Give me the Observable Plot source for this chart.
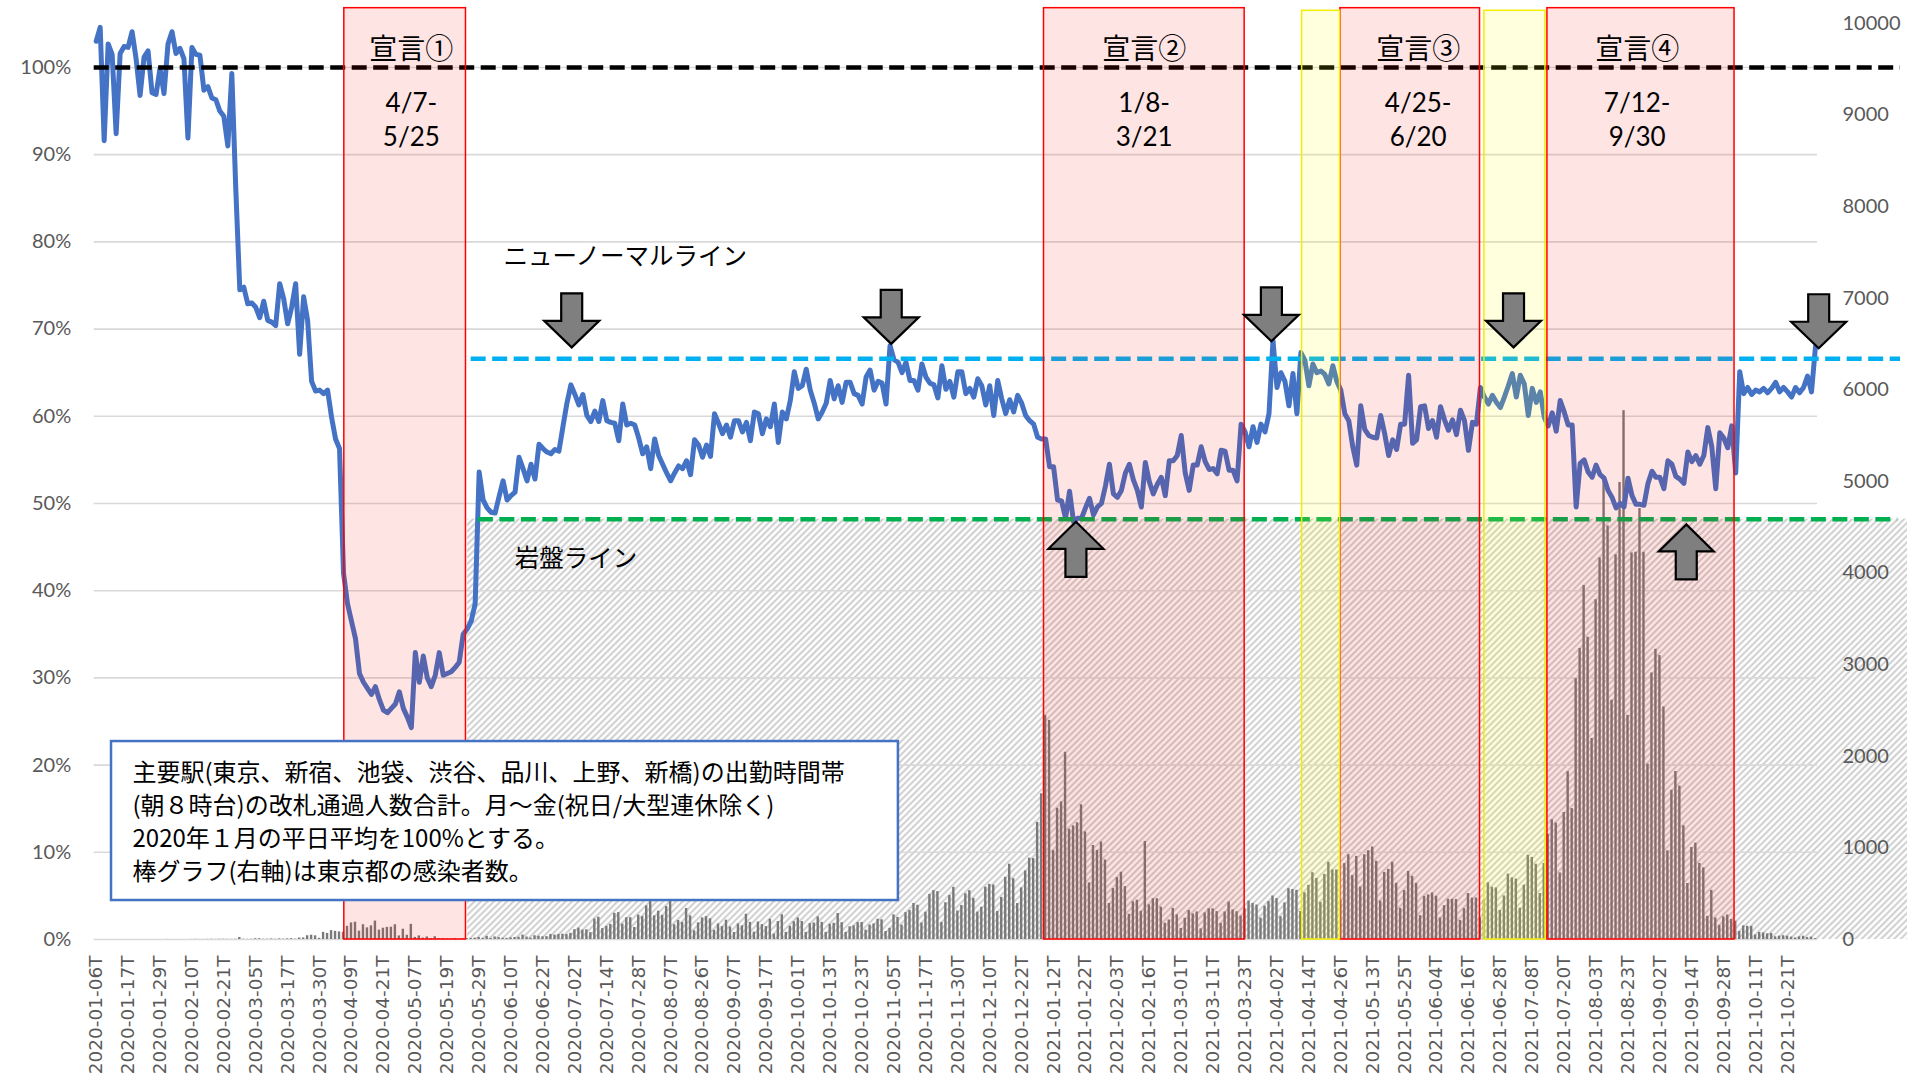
<!DOCTYPE html>
<html><head><meta charset="utf-8">
<script src="https://cdn.jsdelivr.net/npm/d3@7"></script>
<script src="https://cdn.jsdelivr.net/npm/@observablehq/plot@0.6"></script>
<style>
html,body{margin:0;padding:0;background:#fff;}
#chart{width:1907px;height:1078px;overflow:hidden;}
</style></head><body><div id="chart"></div>
<script>
// category tick labels (every 8th business day)
const tickLabels = ["2020-01-06T","2020-01-17T","2020-01-29T","2020-02-10T","2020-02-21T","2020-03-05T","2020-03-17T","2020-03-30T","2020-04-09T","2020-04-21T","2020-05-07T","2020-05-19T","2020-05-29T","2020-06-10T","2020-06-22T","2020-07-02T","2020-07-14T","2020-07-28T","2020-08-07T","2020-08-26T","2020-09-07T","2020-09-17T","2020-10-01T","2020-10-13T","2020-10-23T","2020-11-05T","2020-11-17T","2020-11-30T","2020-12-10T","2020-12-22T","2021-01-12T","2021-01-22T","2021-02-03T","2021-02-16T","2021-03-01T","2021-03-11T","2021-03-23T","2021-04-02T","2021-04-14T","2021-04-26T","2021-05-13T","2021-05-25T","2021-06-04T","2021-06-16T","2021-06-28T","2021-07-08T","2021-07-20T","2021-08-03T","2021-08-23T","2021-09-02T","2021-09-14T","2021-09-28T","2021-10-11T","2021-10-21T"];

// ticket-gate passengers, % of Jan 2020 weekday average (left axis)
const ratio = [
103.0,104.6,91.6,102.7,101.5,92.4,101.6,102.4,102.3,104.1,
101.0,96.8,101.2,101.9,97.1,96.9,99.9,97.0,102.7,104.1,
101.6,102.2,101.0,91.9,102.3,101.5,101.4,97.4,97.8,96.5,
96.3,95.0,94.4,91.0,99.3,86.0,74.5,74.8,72.9,73.0,
72.5,71.3,73.2,71.0,70.8,70.4,75.2,73.5,70.6,72.5,
75.2,67.1,73.7,71.0,64.0,62.9,63.0,62.6,63.0,59.9,
57.4,56.3,42.0,38.5,36.5,34.5,30.5,29.5,28.8,28.1,
29.0,27.5,26.3,26.0,26.5,27.0,28.4,26.5,25.5,24.3,
32.9,29.5,32.5,30.0,29.0,30.3,32.9,30.3,30.5,30.7,
31.2,31.8,35.0,35.6,36.5,38.5,53.6,50.4,49.5,49.0,
48.9,50.8,52.6,50.4,50.9,51.3,55.3,54.0,52.6,54.5,
52.8,56.8,56.3,55.9,55.7,56.2,56.0,58.8,61.5,63.6,
62.5,61.3,62.5,60.1,59.4,60.6,59.4,61.8,59.5,59.3,
59.2,57.2,61.4,59.0,59.2,59.0,57.5,55.7,56.5,54.0,
57.4,55.5,54.5,53.5,52.6,53.5,54.3,54.0,54.9,53.3,
57.3,56.7,55.3,56.7,55.4,60.3,59.2,58.0,59.0,57.6,
59.5,59.5,58.2,59.3,57.2,60.5,60.3,58.0,59.7,58.8,
61.4,57.0,60.5,59.7,61.8,65.1,63.2,63.5,65.4,63.0,
61.5,59.7,60.5,61.5,64.1,62.0,63.5,61.6,63.9,63.9,
62.6,62.4,61.4,64.5,65.3,63.0,64.0,63.8,61.4,68.1,
66.5,66.2,65.0,66.2,64.1,64.1,63.0,66.0,64.5,63.8,
63.6,62.1,65.8,63.1,64.0,62.2,65.1,65.1,62.6,63.2,
62.2,64.3,63.5,61.3,63.5,60.1,64.1,62.0,60.3,61.9,
60.5,62.4,61.5,60.1,59.5,59.1,57.6,57.4,57.4,54.2,
54.2,50.4,50.3,48.3,51.4,47.9,48.3,48.3,49.5,50.6,
48.7,49.6,50.0,52.0,54.5,51.1,50.7,51.5,53.5,54.5,
52.7,51.5,49.6,54.7,52.5,51.1,52.2,53.0,50.9,54.9,
54.9,55.5,57.8,53.5,51.5,54.4,54.4,56.5,54.8,53.9,
54.0,53.4,56.1,56.0,53.8,53.8,52.6,59.1,58.2,56.5,
58.8,57.0,59.1,58.2,60.3,68.7,63.3,65.0,64.0,61.2,
64.9,60.3,67.3,66.4,63.5,66.0,65.0,65.2,64.8,63.7,
65.8,64.0,63.0,60.3,59.5,56.5,54.4,61.2,58.5,57.8,
57.6,57.5,60.1,58.0,55.5,57.3,56.2,59.1,59.1,64.7,
56.9,57.3,61.1,61.2,58.6,59.5,57.6,61.1,59.6,58.4,
59.6,57.9,60.7,59.5,56.1,59.3,59.1,63.3,62.2,61.4,
62.4,61.6,61.0,62.2,63.5,64.9,62.2,64.7,63.7,60.1,
63.2,61.6,62.8,59.9,58.9,60.4,58.3,61.8,60.5,59.0,
59.0,49.6,54.6,55.0,53.6,53.0,54.4,53.3,52.9,51.5,
50.7,49.5,50.0,49.6,52.9,50.9,49.9,49.9,49.8,52.3,
53.7,53.0,53.0,51.7,54.9,54.5,53.1,52.8,52.3,55.9,
54.8,55.5,54.5,55.5,58.7,56.5,51.7,58.1,57.5,56.4,
58.9,53.5,65.1,62.6,63.3,62.5,63.0,62.8,63.2,62.7,
63.2,63.9,62.8,63.3,62.8,62.2,63.3,62.7,63.3,64.6,
62.8,68.0];

// Tokyo daily new infections (right axis)
const cases = [
0,0,0,0,0,0,0,0,0,0, 0,0,0,0,0,0,0,0,1,0, 0,0,0,0,1,2,1,1,2,3, 1,3,3,2,2,3,22,3,2,3,
8,8,3,3,6,3,7,4, 7,9,4,16,17,41,47,40, 13,78,66,97,89,83,79,144,
181,189,91,161,127,149,201,102, 123,132,134,161,39,112,46,165, 23,39,15,28,10,30,9,10,
5,5,11,3,8,10,11,15, 22,13,34,12,28,20,14,12, 18,22,25,48,27,16,41,35,
29,31,55,48,54,58,54,67, 107,124,102,106,75,224,243,119, 143,165,286,293,168,237,238,131,
266,250,367,463,258,309,263,360, 462,161,207,186,339,258,95,182, 236,250,226,100,170,141,211,136,
77,170,149,276,187,80,191,163, 141,220,59,195,270,78,144,194, 235,196,78,173,180,246,187,78,
166,177,284,184,78,139,150,185, 186,102,158,170,221,215,87,122, 269,242,157,293,317,393,374,180,
298,493,534,522,186,401,481,570, 311,372,500,533,449,299,352,572, 602,595,305,460,678,822,664,392,
563,748,888,884,1278,1591,2447,2392, 970,1433,1502,2044,1204,1240,1274,1471, 1175,618,1026,973,1064,868,393,556,
676,734,577,276,412,429,307,1070, 378,445,445,353,178,213,340,270, 121,232,316,279,301,116,290,335,
335,304,175,300,409,323,303,256, 337,420,394,376,234,364,414,475, 446,249,399,555,545,537,306,510,
591,729,667,405,711,843,759,759, 425,828,925,698,907,573,925,969, 1010,854,419,732,766,843,614,340,
535,743,689,614,260,471,487,508, 472,235,369,440,439,436,209,337, 501,452,453,236,435,619,570,562,
317,476,714,673,660,342,593,920, 896,822,502,830,1149,1308,1271,727, 1387,1832,1429,2848,3177,3865,3300,2195,
3709,4166,5042,4515,2612,4200,4989,5773, 2447,4220,4228,4704,4227,1915,2909,3168, 3099,2539,968,1629,1834,1675,1242,611,
1004,1052,831,782,253,537,235,154, 248,267,218,200,87,149,144,143, 49,77,72,62,66,29,36,41,
36,26,17,29,36,21,26,9];

// state-of-emergency periods (category-axis spans) and labels
const declarations = [
  {name:"宣言①", from:"4/7-", to:"5/25", x1:62.2, x2:92.7, labelAt:79.0},
  {name:"宣言②", from:"1/8-", to:"3/21", x1:237.6, x2:287.9, labelAt:262.7},
  {name:"宣言③", from:"4/25-", to:"6/20", x1:311.9, x2:346.9, labelAt:331.4},
  {name:"宣言④", from:"7/12-", to:"9/30", x1:363.8, x2:410.7, labelAt:386.3}
];
const interim = [ {x1:302.3, x2:311.8}, {x1:348.0, x2:363.3} ];

// reference lines (value in %, span along category axis)
const refLines = [
  {name:"100%", v:100, from:-0.5, to:452.3, color:"#000000"},
  {name:"ニューノーマルライン", v:66.6, from:94.0, to:452.3, color:"#00B0F0"},
  {name:"岩盤ライン", v:48.2, from:95.8, to:451.6, color:"#00B050"}
];
const bedrock = [{x1:93.1, x2:454.3, v:48.2}];

// arrows marking peaks / troughs
const arrows = [
  {i:119.2, v:67.9, dir:"down"}, {i:199.3, v:68.3, dir:"down"}, {i:294.6, v:68.6, dir:"down"},
  {i:355.3, v:67.9, dir:"down"}, {i:431.8, v:67.8, dir:"down"},
  {i:245.6, v:47.9, dir:"up"}, {i:398.6, v:47.6, dir:"up"}
];

const lineLabels = [
  {text:"ニューノーマルライン", i:102.1, v:78.2},
  {text:"岩盤ライン", i:104.9, v:43.6}
];

const noteLines = [
  "主要駅(東京、新宿、池袋、渋谷、品川、上野、新橋)の出勤時間帯",
  "(朝８時台)の改札通過人数合計。月～金(祝日/大型連休除く)",
  "2020年１月の平日平均を100%とする。",
  "棒グラフ(右軸)は東京都の感染者数。"
];
const noteBox = [{x1:3.84, x2:201.1, y1:4.47, y2:22.7, textX:9.1, textY:20.9}];

// right axis: 10000 cases corresponds to 105.05 % on the left axis
const K = 105.05 / 10000;
const rightTicks = d3.range(0, 10001, 1000);
const leftTicks = d3.range(0, 101, 10);

const lineData = ratio.map((v, i) => ({i, v}));
const barData = cases.map((c, i) => ({i, c}));

const downArrow = {draw(ctx) {
  ctx.moveTo(0, 0); ctx.lineTo(-27.5, -26.5); ctx.lineTo(-10.5, -26.5); ctx.lineTo(-10.5, -54);
  ctx.lineTo(10.5, -54); ctx.lineTo(10.5, -26.5); ctx.lineTo(27.5, -26.5); ctx.closePath();
}};
const upArrow = {draw(ctx) {
  ctx.moveTo(0, 0); ctx.lineTo(-27.5, 27); ctx.lineTo(-10.5, 27); ctx.lineTo(-10.5, 55);
  ctx.lineTo(10.5, 55); ctx.lineTo(10.5, 27); ctx.lineTo(27.5, 27); ctx.closePath();
}};

const JP = "'Noto Sans CJK JP', 'Noto Sans', sans-serif";

const chart = Plot.plot({
  width: 1907, height: 1078,
  marginLeft: 93.7, marginRight: 90, marginTop: 0, marginBottom: 139,
  x: {type: "linear", domain: [-0.5, 431.5]},
  y: {domain: [0, 107.68]},
  style: {fontFamily: "Lato, 'Noto Sans', sans-serif", background: "#fff", overflow: "visible"},
  marks: [
    Plot.rect(bedrock, {x1: "x1", x2: "x2", y1: 0, y2: "v", fill: "url(#hatch)"}),
    Plot.ruleY(leftTicks, {stroke: "#D9D9D9", strokeWidth: 1.6}),
    Plot.rect(barData, {x1: d => d.i - 0.3, x2: d => d.i + 0.3, y1: 0, y2: d => d.c * K, fill: "#7A7A7A"}),
    Plot.line(lineData, {x: "i", y: "v", stroke: "#4472C4", strokeWidth: 5, strokeLinejoin: "round", curve: "linear"}),
    Plot.ruleY(refLines, {y: "v", x1: "from", x2: "to", stroke: "color", strokeWidth: 4.5, strokeDasharray: "15,6.5"}),
    Plot.rect(declarations, {x1: "x1", x2: "x2", y1: 0, y2: 106.8, fill: "#FF0000", fillOpacity: 0.105, stroke: "#FF0000", strokeWidth: 1.5}),
    Plot.rect(interim, {x1: "x1", x2: "x2", y1: 0, y2: 106.5, fill: "#FFFF00", fillOpacity: 0.13, stroke: "#F2EE00", strokeWidth: 1.5}),
    Plot.rect(noteBox, {x1: "x1", x2: "x2", y1: "y1", y2: "y2", fill: "#fff", stroke: "#4472C4", strokeWidth: 2.5}),
    Plot.text(noteBox, {x: "textX", y: "textY", text: () => noteLines.join("\n"), textAnchor: "start", lineAnchor: "top", lineHeight: 1.375, fontSize: 24, fontFamily: JP, fill: "#000"}),
    Plot.text(declarations, {x: "labelAt", y: 101.95, text: "name", fontSize: 28, fontFamily: JP, fill: "#000"}),
    Plot.text(declarations, {x: "labelAt", y: 95.8, text: "from", fontSize: 26, fontFamily: "Lato, sans-serif", fill: "#000"}),
    Plot.text(declarations, {x: "labelAt", y: 91.9, text: "to", fontSize: 26, fontFamily: "Lato, sans-serif", fill: "#000"}),
    Plot.text(lineLabels, {x: "i", y: "v", text: "text", textAnchor: "start", fontSize: 24.5, fontFamily: JP, fill: "#000"}),
    Plot.dot(arrows.filter(d => d.dir === "down"), {x: "i", y: "v", symbol: downArrow, r: 10, fill: "#7F7F7F", stroke: "#000", strokeWidth: 2.2}),
    Plot.dot(arrows.filter(d => d.dir === "up"), {x: "i", y: "v", symbol: upArrow, r: 10, fill: "#7F7F7F", stroke: "#000", strokeWidth: 2.2}),
    Plot.axisY(leftTicks, {anchor: "left", tickSize: 0, tickPadding: 23, tickFormat: d => d + "%", fontSize: 20, color: "#595959", label: null}),
    Plot.axisY(rightTicks.map(c => c * K), {anchor: "right", tickSize: 0, tickPadding: 25, tickFormat: d => String(Math.round(d / K)), fontSize: 20, color: "#595959", label: null}),
    Plot.axisX(d3.range(0, 432, 8), {anchor: "bottom", tickSize: 0, tickPadding: 16, tickRotate: -90, textAnchor: "end", tickFormat: d => tickLabels[d / 8], fontSize: 18.5, fontFamily: "'DejaVu Sans', sans-serif", color: "#595959", label: null})
  ]
});

const svg = chart.tagName.toLowerCase() === "svg" ? chart : chart.querySelector("svg");
const defs = d3.select(svg).insert("defs", ":first-child");
const pat = defs.append("pattern").attr("id", "hatch").attr("patternUnits", "userSpaceOnUse")
  .attr("width", 4.6).attr("height", 4.6).attr("patternTransform", "rotate(45)");
pat.append("rect").attr("width", 4.6).attr("height", 4.6).attr("fill", "#ffffff");
pat.append("line").attr("x1", 2.3).attr("y1", 0).attr("x2", 2.3).attr("y2", 4.6).attr("stroke", "#C6C6C6").attr("stroke-width", 1.7);
document.getElementById("chart").appendChild(chart);
</script></body></html>
